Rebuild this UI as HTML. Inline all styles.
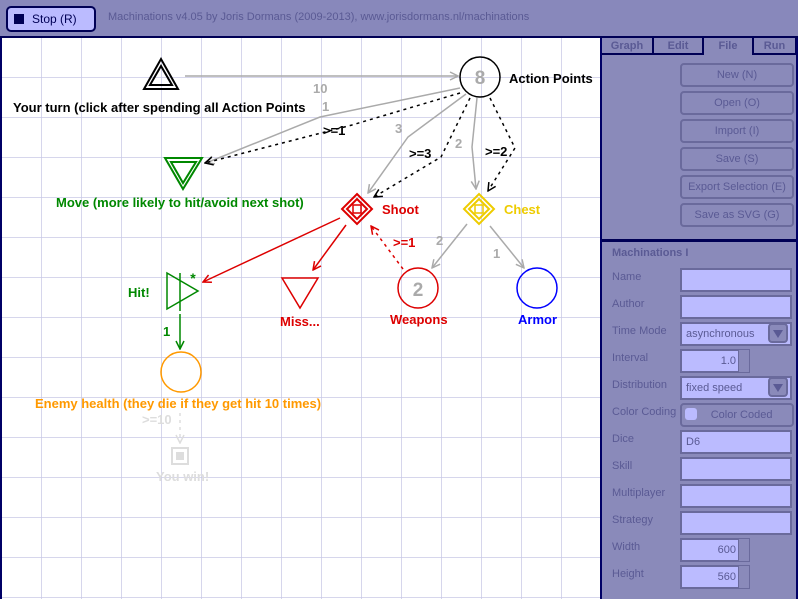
<!DOCTYPE html>
<html><head><style>
body{margin:0;width:798px;height:599px;overflow:hidden;background:#000066;font-family:"Liberation Sans",sans-serif;position:relative}
.hdr{position:absolute;left:0;top:0;width:798px;height:36px;background:#8888bb;border-bottom:2px solid #000055}
.stop{position:absolute;left:6px;top:6px;width:86px;height:22px;background:#bbbbff;border:2px solid #000055;border-radius:5px;font-size:12px;color:#000055}
.stop i{position:absolute;left:6px;top:6px;width:10px;height:10px;background:#000055}
.stop span{position:absolute;left:24px;top:4px}
.title{position:absolute;left:108px;top:11px;font-size:11px;color:#5a5a94}
.canvas{position:absolute;left:2px;top:38px;width:598px;height:561px;background:#fff}
.panel{position:absolute;left:602px;top:38px;width:194px;height:561px;background:#8a8aba}
.tab{position:absolute;top:0;height:17px;font-size:11px;font-weight:bold;color:#5a5a94;text-align:center;line-height:17px;background:#8a8aba;border:1px solid #000055;border-top:none;box-sizing:border-box}
.btn{position:absolute;left:78px;width:110px;height:20px;border:2px solid #6a6a9c;border-radius:4px;font-size:11px;color:#5a5a94;text-align:center;line-height:20px}
.lbl{position:absolute;left:10px;font-size:11px;color:#5a5a94}
.inp{position:absolute;left:78px;width:108px;height:20px;background:#bbbbff;border:2px solid #6a6a9c;font-size:11px;color:#5a5a94;line-height:20px;padding-left:4px;box-sizing:content-box}
.dd{position:absolute;left:166px;width:20px;height:20px;background:#8a8aba;border:2px solid #6a6a9c;border-radius:4px;box-sizing:border-box}
.dd:after{content:"";position:absolute;left:3px;top:5px;border-left:5px solid transparent;border-right:5px solid transparent;border-top:8px solid #5a5a94}
.sp{position:absolute;left:136px;width:12px;height:24px;background:#8a8aba;border:1px solid #6a6a9c;box-sizing:border-box}
</style></head><body>
<div class="hdr"><div class="stop"><i></i><span>Stop (R)</span></div>
<div class="title">Machinations v4.05 by Joris Dormans (2009-2013), www.jorisdormans.nl/machinations</div></div>
<div class="canvas">
<svg width="598" height="561" viewBox="2 38 598 561" style="position:absolute;left:0;top:0" font-family="Liberation Sans,sans-serif" font-weight="bold" font-size="13">
<defs><pattern id="g" x="2" y="-2" width="40" height="40" patternUnits="userSpaceOnUse"><path d="M40 0V40M0 40H40" stroke="#c8c8e6" stroke-width="1.5" fill="none"/></pattern>
<marker id="ag" markerWidth="10" markerHeight="10" refX="9" refY="5" orient="auto" markerUnits="userSpaceOnUse"><path d="M1 1L9 5L1 9" fill="none" stroke="#aaa" stroke-width="1.5"/></marker>
<marker id="ak" markerWidth="10" markerHeight="10" refX="9" refY="5" orient="auto" markerUnits="userSpaceOnUse"><path d="M1 1L9 5L1 9" fill="none" stroke="#000" stroke-width="1.5"/></marker>
<marker id="ar" markerWidth="10" markerHeight="10" refX="9" refY="5" orient="auto" markerUnits="userSpaceOnUse"><path d="M1 1L9 5L1 9" fill="none" stroke="#d00" stroke-width="1.5"/></marker>
<marker id="agr" markerWidth="10" markerHeight="10" refX="9" refY="5" orient="auto" markerUnits="userSpaceOnUse"><path d="M1 1L9 5L1 9" fill="none" stroke="#080" stroke-width="1.5"/></marker>
<marker id="al" markerWidth="10" markerHeight="10" refX="9" refY="5" orient="auto" markerUnits="userSpaceOnUse"><path d="M1 1L9 5L1 9" fill="none" stroke="#ddd" stroke-width="1.5"/></marker>
</defs>
<rect x="2" y="38" width="598" height="561" fill="url(#g)"/>
<g fill="none" stroke-width="1.5">
<path d="M185 76H458" stroke="#aaa" marker-end="url(#ag)"/>
<path d="M460 88L320 117L206 163" stroke="#aaa" marker-end="url(#ag)"/>
<path d="M460 93L352 125L205 163" stroke="#000" stroke-dasharray="3,4" marker-end="url(#ak)"/>
<path d="M466 94L408 137L368 193" stroke="#aaa" marker-end="url(#ag)"/>
<path d="M470 98L441 157L374 197" stroke="#000" stroke-dasharray="3,4" marker-end="url(#ak)"/>
<path d="M477 98L472 147L476 189" stroke="#aaa" marker-end="url(#ag)"/>
<path d="M490 98L515 148L488 191" stroke="#000" stroke-dasharray="3,4" marker-end="url(#ak)"/>
<path d="M340 218L203 282" stroke="#d00" marker-end="url(#ar)"/>
<path d="M346 225L313 270" stroke="#d00" marker-end="url(#ar)"/>
<path d="M403 269L371 226" stroke="#d00" stroke-dasharray="3,4" marker-end="url(#ar)"/>
<path d="M467 224L432 268" stroke="#aaa" marker-end="url(#ag)"/>
<path d="M490 226L524 268" stroke="#aaa" marker-end="url(#ag)"/>
<path d="M180 314V349" stroke="#080" marker-end="url(#agr)"/>
<path d="M180 413V443" stroke="#ddd" stroke-dasharray="3,4" marker-end="url(#al)"/>
<path d="M144 89L161 59L178 89Z M150 85L161 66L172 85Z" stroke="#000" stroke-width="2"/>
<circle cx="480" cy="77" r="20" stroke="#000"/>
<path d="M165 158H202L183 189Z M171 162H196L183 183Z" stroke="#080" stroke-width="2"/>
<path d="M357 194L372 209L357 224L342 209Z M357 199L367 209L357 219L347 209Z" stroke="#d00" stroke-width="2"/>
<rect x="353" y="205" width="8" height="8" stroke="#d00" stroke-width="1.5"/>
<path d="M479 194L494 209L479 224L464 209Z M479 199L489 209L479 219L469 209Z" stroke="#ec0" stroke-width="2"/>
<rect x="475" y="205" width="8" height="8" stroke="#ec0" stroke-width="1.5"/>
<path d="M167 273L198 291L167 309Z M180 273V311" stroke="#080"/>
<path d="M282 278H318L300 308Z" stroke="#d00"/>
<circle cx="418" cy="288" r="20" stroke="#d00"/>
<circle cx="537" cy="288" r="20" stroke="#00f"/>
<circle cx="181" cy="372" r="20" stroke="#f90"/>
<rect x="172" y="448" width="16" height="16" stroke="#ddd" stroke-width="2"/>
</g>
<rect x="176" y="452" width="8" height="8" fill="#ddd"/>
<text x="480" y="84" font-size="19" fill="#aaa" text-anchor="middle">8</text>
<text x="418" y="296" font-size="19" fill="#aaa" text-anchor="middle">2</text>
<text x="193" y="283" font-size="14" fill="#080" text-anchor="middle">*</text>
<text x="509" y="83" fill="#000">Action Points</text>
<text x="13" y="112" fill="#000">Your turn (click after spending all Action Points</text>
<text x="56" y="207" fill="#080">Move (more likely to hit/avoid next shot)</text>
<text x="382" y="214" fill="#d00">Shoot</text>
<text x="504" y="214" fill="#ec0">Chest</text>
<text x="128" y="297" fill="#080">Hit!</text>
<text x="280" y="326" fill="#d00">Miss...</text>
<text x="390" y="324" fill="#d00">Weapons</text>
<text x="518" y="324" fill="#00f">Armor</text>
<text x="35" y="408" fill="#f90">Enemy health (they die if they get hit 10 times)</text>
<text x="156" y="481" fill="#ddd">You win!</text>
<text x="142" y="424" fill="#ddd">&gt;=10</text>
<g fill="#aaa"><text x="313" y="93">10</text><text x="322" y="111">1</text><text x="395" y="133">3</text><text x="455" y="148">2</text><text x="436" y="245">2</text><text x="493" y="258">1</text></g>
<g fill="#000"><text x="323" y="135">&gt;=1</text><text x="409" y="158">&gt;=3</text><text x="485" y="156">&gt;=2</text></g>
<text x="393" y="247" fill="#d00">&gt;=1</text>
<text x="163" y="336" fill="#080">1</text>
</svg>
</div>
<div class="panel">
<div style="position:absolute;left:0;top:0;width:194px;height:2px;background:#000055"></div>
<div class="tab" style="left:0;width:51px;border-bottom:2px solid #000055;border-left:none">Graph</div>
<div class="tab" style="left:51px;width:50px;border-bottom:2px solid #000055">Edit</div>
<div class="tab" style="left:101px;width:50px;border-bottom:none;background:#8a8aba">File</div>
<div class="tab" style="left:151px;width:43px;border-bottom:2px solid #000055">Run</div>
<div class="btn" style="top:25px">New (N)</div>
<div class="btn" style="top:53px">Open (O)</div>
<div class="btn" style="top:81px">Import (I)</div>
<div class="btn" style="top:109px">Save (S)</div>
<div class="btn" style="top:137px">Export Selection (E)</div>
<div class="btn" style="top:165px">Save as SVG (G)</div>
<div style="position:absolute;left:0;top:201px;width:194px;height:3px;background:#000055"></div>
<div class="lbl" style="top:209px;font-weight:bold">Machinations I</div>
<div class="lbl" style="top:233px">Name</div><div class="inp" style="top:230px;width:104px"></div>
<div class="lbl" style="top:260px">Author</div><div class="inp" style="top:257px;width:104px"></div>
<div class="lbl" style="top:287px">Time Mode</div><div class="inp" style="top:284px;width:104px">asynchronous</div><div class="dd" style="top:285px"></div>
<div class="lbl" style="top:314px">Interval</div><div class="inp" style="top:311px;width:50px;text-align:right;padding-right:2px">1.0</div><div class="sp" style="top:311px"></div>
<div class="lbl" style="top:341px">Distribution</div><div class="inp" style="top:338px;width:104px">fixed speed</div><div class="dd" style="top:339px"></div>
<div class="lbl" style="top:368px">Color Coding</div><div class="btn" style="top:365px;height:20px;color:#5a5a94">&nbsp;&nbsp;&nbsp;Color Coded</div>
<div style="position:absolute;left:83px;top:370px;width:12px;height:12px;background:#bbbbff;border-radius:3px"></div>
<div class="lbl" style="top:395px">Dice</div><div class="inp" style="top:392px;width:104px">D6</div>
<div class="lbl" style="top:422px">Skill</div><div class="inp" style="top:419px;width:104px"></div>
<div class="lbl" style="top:449px">Multiplayer</div><div class="inp" style="top:446px;width:104px"></div>
<div class="lbl" style="top:476px">Strategy</div><div class="inp" style="top:473px;width:104px"></div>
<div class="lbl" style="top:503px">Width</div><div class="inp" style="top:500px;width:50px;text-align:right;padding-right:2px">600</div><div class="sp" style="top:500px"></div>
<div class="lbl" style="top:530px">Height</div><div class="inp" style="top:527px;width:50px;text-align:right;padding-right:2px">560</div><div class="sp" style="top:527px"></div>
</div>
</body></html>
